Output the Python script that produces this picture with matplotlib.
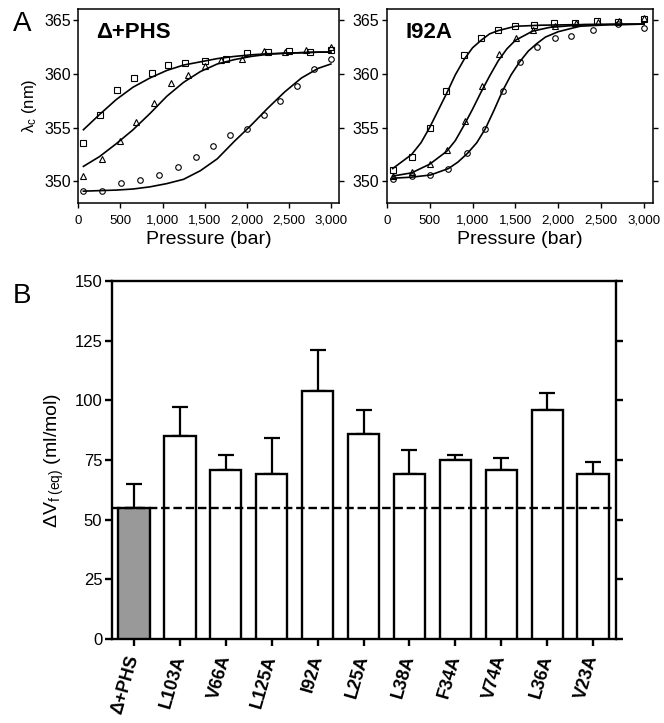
import matplotlib
matplotlib.use("Agg")
import matplotlib.pyplot as plt
import matplotlib.ticker as mticker
import numpy as np

plt.rcParams['font.family'] = ['Liberation Sans', 'DejaVu Sans']
plt.rcParams['mathtext.fontset'] = 'custom'
plt.rcParams['mathtext.rm'] = 'Liberation Sans'
plt.rcParams['mathtext.it'] = 'Liberation Sans:italic'

# ---- panel A, delta+PHS ----
p_sq = [60, 260, 460, 660, 870, 1070, 1270, 1500, 1750, 2000, 2250, 2500, 2750, 3000]
lam_sq = [353.6, 356.2, 358.5, 359.6, 360.1, 360.8, 361.0, 361.2, 361.4, 361.9, 362.0, 362.1, 362.0, 362.2]
p_tri = [60, 280, 490, 690, 900, 1100, 1300, 1500, 1700, 1950, 2200, 2450, 2700, 3000]
lam_tri = [350.5, 352.1, 353.8, 355.5, 357.3, 359.1, 359.9, 360.7, 361.3, 361.4, 362.1, 362.0, 362.2, 362.5]
p_circ = [60, 280, 510, 730, 960, 1180, 1400, 1600, 1800, 2000, 2200, 2400, 2600, 2800, 3000]
lam_circ = [349.1, 349.1, 349.9, 350.1, 350.6, 351.3, 352.3, 353.3, 354.3, 354.9, 356.2, 357.5, 358.9, 360.4, 361.4]

fit_p = [60, 250, 450, 650, 850, 1050, 1250, 1450, 1650, 1850, 2050, 2250, 2450, 2650, 2850, 3000]
fit_sq = [354.8, 356.2, 357.6, 358.75, 359.6, 360.3, 360.8, 361.1, 361.4, 361.6, 361.75, 361.85, 361.9, 361.95, 362.0, 362.0]
fit_tri = [351.4, 352.3, 353.5, 354.8, 356.3, 357.9, 359.2, 360.2, 360.9, 361.3, 361.6, 361.8, 361.9, 361.95, 362.0, 362.0]
fit_circ = [349.1, 349.15, 349.2, 349.3, 349.5, 349.8, 350.2, 351.0, 352.1, 353.7, 355.2, 356.8, 358.3, 359.6, 360.5, 360.9]

# ---- panel A, I92A ----
p_sq2 = [70, 290, 500, 690, 900, 1100, 1300, 1500, 1720, 1950, 2200, 2450, 2700, 3000]
lam_sq2 = [351.1, 352.3, 355.0, 358.4, 361.7, 363.3, 364.1, 364.4, 364.5, 364.7, 364.7, 364.9, 364.8, 365.1]
p_tri2 = [70, 290, 510, 700, 910, 1110, 1310, 1510, 1710, 1960, 2210, 2460, 2710, 3000]
lam_tri2 = [350.5, 350.9, 351.6, 352.9, 355.6, 358.9, 361.8, 363.3, 364.1, 364.4, 364.7, 364.8, 364.9, 365.2]
p_circ2 = [70, 290, 510, 720, 940, 1150, 1350, 1550, 1750, 1960, 2150, 2400, 2700, 3000]
lam_circ2 = [350.2, 350.5, 350.6, 351.2, 352.6, 354.9, 358.4, 361.1, 362.5, 363.3, 363.5, 364.1, 364.6, 364.2]

fit_sq2_p = [70, 290, 400, 500, 600, 700, 800, 900, 1000, 1100, 1200, 1300, 1500, 1800, 2200, 3000]
fit_sq2 = [351.2, 352.5, 353.6, 355.0, 356.6, 358.2, 359.9, 361.3, 362.4, 363.1, 363.7, 364.0, 364.4, 364.5, 364.55, 364.6]
fit_tri2_p = [70, 290, 500, 700, 800, 900, 1000, 1100, 1200, 1300, 1400, 1500, 1700, 1900, 2300, 3000]
fit_tri2 = [350.5, 350.8, 351.6, 352.8, 353.8, 355.2, 356.7, 358.3, 359.8, 361.2, 362.3, 363.1, 363.95, 364.3, 364.55, 364.6]
fit_circ2_p = [70, 290, 510, 720, 830, 940, 1050, 1150, 1250, 1350, 1450, 1550, 1650, 1750, 1850, 2000, 2250, 2600, 3000]
fit_circ2 = [350.3, 350.4, 350.6, 351.2, 351.8, 352.6, 353.6, 354.9, 356.6, 358.4, 359.9, 361.1, 362.1, 362.8, 363.4, 363.9, 364.4, 364.55, 364.6]

# ---- panel B ----
mutants = ['Δ+PHS', 'L103A', 'V66A', 'L125A', 'I92A', 'L25A', 'L38A', 'F34A', 'V74A', 'L36A', 'V23A']
dV = [55, 85, 71, 69, 104, 86, 69, 75, 71, 96, 69]
dV_err = [10, 12, 6, 15, 17, 10, 10, 2, 5, 7, 5]
ref_dV = 55

fig = plt.figure(figsize=(6.64, 7.23), dpi=100)

def pressure_panel(rect, series, fits, title):
    ax = fig.add_axes(rect)
    for (p, y, m) in series:
        ax.plot(p, y, m, ls='none', mfc='none', mec='black', ms=4, mew=0.8)
    for (p, y) in fits:
        ax.plot(p, y, '-', color='black', lw=1.2)
    ax.set_xlim(0, 3100)
    ax.set_ylim(348, 366)
    ax.set_xticks(np.arange(0, 3001, 500))
    ax.set_yticks([350, 355, 360, 365])
    ax.xaxis.set_major_formatter(mticker.StrMethodFormatter('{x:,.0f}'))
    ax.tick_params(axis='y', direction='out', length=3.5, width=1, right=True,
                   labelright=False, labelsize=11.5, pad=2)
    ax.tick_params(axis='x', direction='out', length=3.5, width=1, labelsize=9.5, pad=5)
    for s in ax.spines.values():
        s.set_linewidth(1.1)
    ax.set_xlabel('Pressure (bar)', fontsize=14, labelpad=3)
    ax.text(0.07, 0.88, title, transform=ax.transAxes, fontsize=16,
            fontweight='bold', va='center', ha='left')
    return ax

ax1 = pressure_panel([0.118, 0.7192, 0.393, 0.2683],
                     [(p_sq, lam_sq, 's'), (p_tri, lam_tri, '^'), (p_circ, lam_circ, 'o')],
                     [(fit_p, fit_sq), (fit_p, fit_tri), (fit_p, fit_circ)], 'Δ+PHS')
ax1.set_ylabel(r'λ$_\mathrm{c}$ (nm)', fontsize=12, labelpad=4)

ax2 = pressure_panel([0.5824, 0.7192, 0.4006, 0.2683],
                     [(p_sq2, lam_sq2, 's'), (p_tri2, lam_tri2, '^'), (p_circ2, lam_circ2, 'o')],
                     [(fit_sq2_p, fit_sq2), (fit_tri2_p, fit_tri2), (fit_circ2_p, fit_circ2)], 'I92A')

# ---- bar chart ----
ax3 = fig.add_axes([0.1687, 0.1162, 0.759, 0.4952])
x = np.arange(len(mutants))
colors = ['#999999'] + ['white'] * (len(mutants) - 1)
ax3.bar(x, dV, width=0.68, color=colors, edgecolor='black', linewidth=1.7, zorder=3)
ax3.errorbar(x, dV, yerr=[np.zeros(len(dV)), dV_err], fmt='none', ecolor='black',
             elinewidth=1.6, capsize=6, capthick=1.6, zorder=2)
ax3.axhline(ref_dV, color='black', lw=1.7, ls=(0, (3.6, 1.6)), zorder=4)
ax3.set_xlim(-0.48, 10.5)
ax3.set_ylim(0, 150)
ax3.set_yticks(np.arange(0, 151, 25))
ax3.set_xticks(x)
ax3.set_xticklabels(mutants, rotation=74, ha='right', va='center',
                    rotation_mode='anchor', fontsize=13, fontweight='bold')
ax3.tick_params(axis='y', direction='out', length=5, width=1.7, right=True,
                labelright=False, labelsize=12, pad=2)
ax3.tick_params(axis='x', direction='out', length=5, width=1.7, pad=7)
for s in ax3.spines.values():
    s.set_linewidth(1.7)
ax3.set_ylabel(r'ΔV$_\mathrm{f\ (eq)}$ (ml/mol)', fontsize=14, labelpad=6)

fig.text(22 / 664, 1 - 24 / 723, 'A', fontsize=20, ha='center', va='center')
fig.text(22 / 664, 1 - 296 / 723, 'B', fontsize=20, ha='center', va='center')

fig.savefig('out.png', dpi=100)
